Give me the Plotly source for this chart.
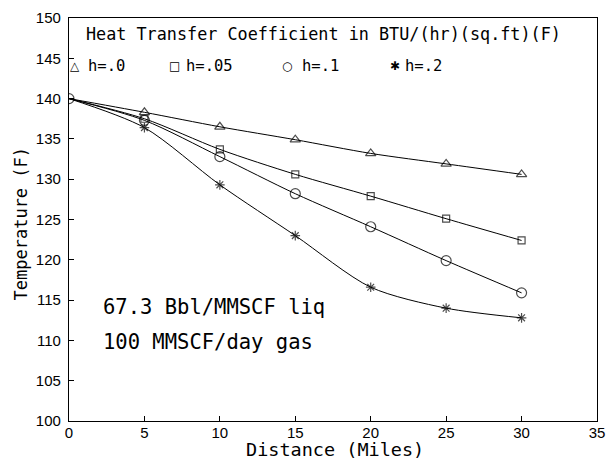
import plotly.graph_objects as go

distance = [0, 5, 10, 15, 20, 25, 30]
h_labels = ["h=.0", "h=.05", "h=.1", "h=.2"]
temp_h0 = [140, 138.3, 136.5, 134.9, 133.2, 131.9, 130.6]
temp_h05 = [140, 137.5, 133.7, 130.6, 127.9, 125.1, 122.4]
temp_h1 = [140, 137.3, 132.8, 128.2, 124.1, 119.9, 115.9]
temp_h2 = [140, 136.4, 129.3, 123.0, 116.6, 114.0, 112.8]
series = [temp_h0, temp_h05, temp_h1, temp_h2]
symbols = ["triangle-up-open", "square-open", "circle-open", "asterisk-open"]
legend_chars = ["△", "□", "○", "✱"]
sizes = [9, 7, 10, 8]

x_ticks = [0, 5, 10, 15, 20, 25, 30, 35]
y_ticks = [100, 105, 110, 115, 120, 125, 130, 135, 140, 145, 150]

MONO = "DejaVu Sans Mono, Liberation Mono, monospace"
tick_font = dict(family="Liberation Sans Narrow, Liberation Sans, Arial, sans-serif", size=15, color="black")

fig = go.Figure()
for lab, vals, sym, sz in zip(h_labels, series, symbols, sizes):
    msize = [sz] * len(vals)
    if sym != "circle-open":
        msize[0] = 0
    fig.add_trace(go.Scatter(
        x=distance, y=vals, mode="lines+markers", name=lab, showlegend=False,
        line=dict(color="black", width=1, shape="spline", smoothing=0.8),
        marker=dict(symbol=sym, size=msize, color="black", line=dict(color="black", width=1.2)),
    ))

# header and legend row
fig.add_annotation(text="Heat Transfer Coefficient in BTU/(hr)(sq.ft)(F)", xref="paper", yref="paper",
                   x=0.028, y=0.960, xanchor="left", yanchor="middle", showarrow=False,
                   font=dict(family=MONO, size=16.8, color="black"))
sym_x = [0.0112, 0.2, 0.4123, 0.618]
txt_x = [0.0317, 0.218, 0.4366, 0.6325]
for ch, lab, sx, tx in zip(legend_chars, h_labels, sym_x, txt_x):
    fig.add_annotation(text=ch, xref="paper", yref="paper", x=sx, y=0.881, xanchor="center",
                       yanchor="middle", showarrow=False,
                       font=dict(family="DejaVu Sans, sans-serif", size=12, color="black"))
    fig.add_annotation(text=lab, xref="paper", yref="paper", x=tx, y=0.881, xanchor="left",
                       yanchor="middle", showarrow=False, font=dict(family=MONO, size=15.5, color="black"))

fig.add_annotation(text="67.3 Bbl/MMSCF liq", x=2.1, y=114.2, xanchor="left", yanchor="middle",
                   showarrow=False, font=dict(family=MONO, size=20.5, color="black"))
fig.add_annotation(text="100 MMSCF/day gas", x=2.1, y=109.8, xanchor="left", yanchor="middle",
                   showarrow=False, font=dict(family=MONO, size=20.5, color="black"))

# axis titles
fig.add_annotation(text="Distance (Miles)", xref="paper", yref="paper", x=0.503, y=-0.07,
                   xanchor="center", yanchor="middle", showarrow=False,
                   font=dict(family=MONO, size=18.5, color="black"))
fig.add_annotation(text="Temperature (F)", xref="paper", yref="paper", x=-0.091, y=0.49,
                   xanchor="center", yanchor="middle", textangle=-90, showarrow=False,
                   font=dict(family=MONO, size=17, color="black"))

fig.update_layout(
    width=614, height=461,
    margin=dict(l=69, r=9, t=17, b=40),
    paper_bgcolor="white", plot_bgcolor="white",
    showlegend=False,
    xaxis=dict(range=[0, 35], tickvals=x_ticks, ticks="inside", ticklen=5, tickcolor="black",
               showline=True, linecolor="black", linewidth=1.3, mirror=True, showgrid=False,
               zeroline=False, tickfont=tick_font, ticklabelstandoff=-2),
    yaxis=dict(range=[100, 150], tickvals=y_ticks, ticks="inside", ticklen=5, tickcolor="black",
               showline=True, linecolor="black", linewidth=1.3, mirror=True, showgrid=False,
               zeroline=False, tickfont=tick_font, ticklabelstandoff=4),
)

# remove the page's default body margin so the figure fills the window exactly
fig.write_html("out.html", config={"displayModeBar": False},
               post_script="document.body.style.margin='0';document.body.style.overflow='hidden';")
